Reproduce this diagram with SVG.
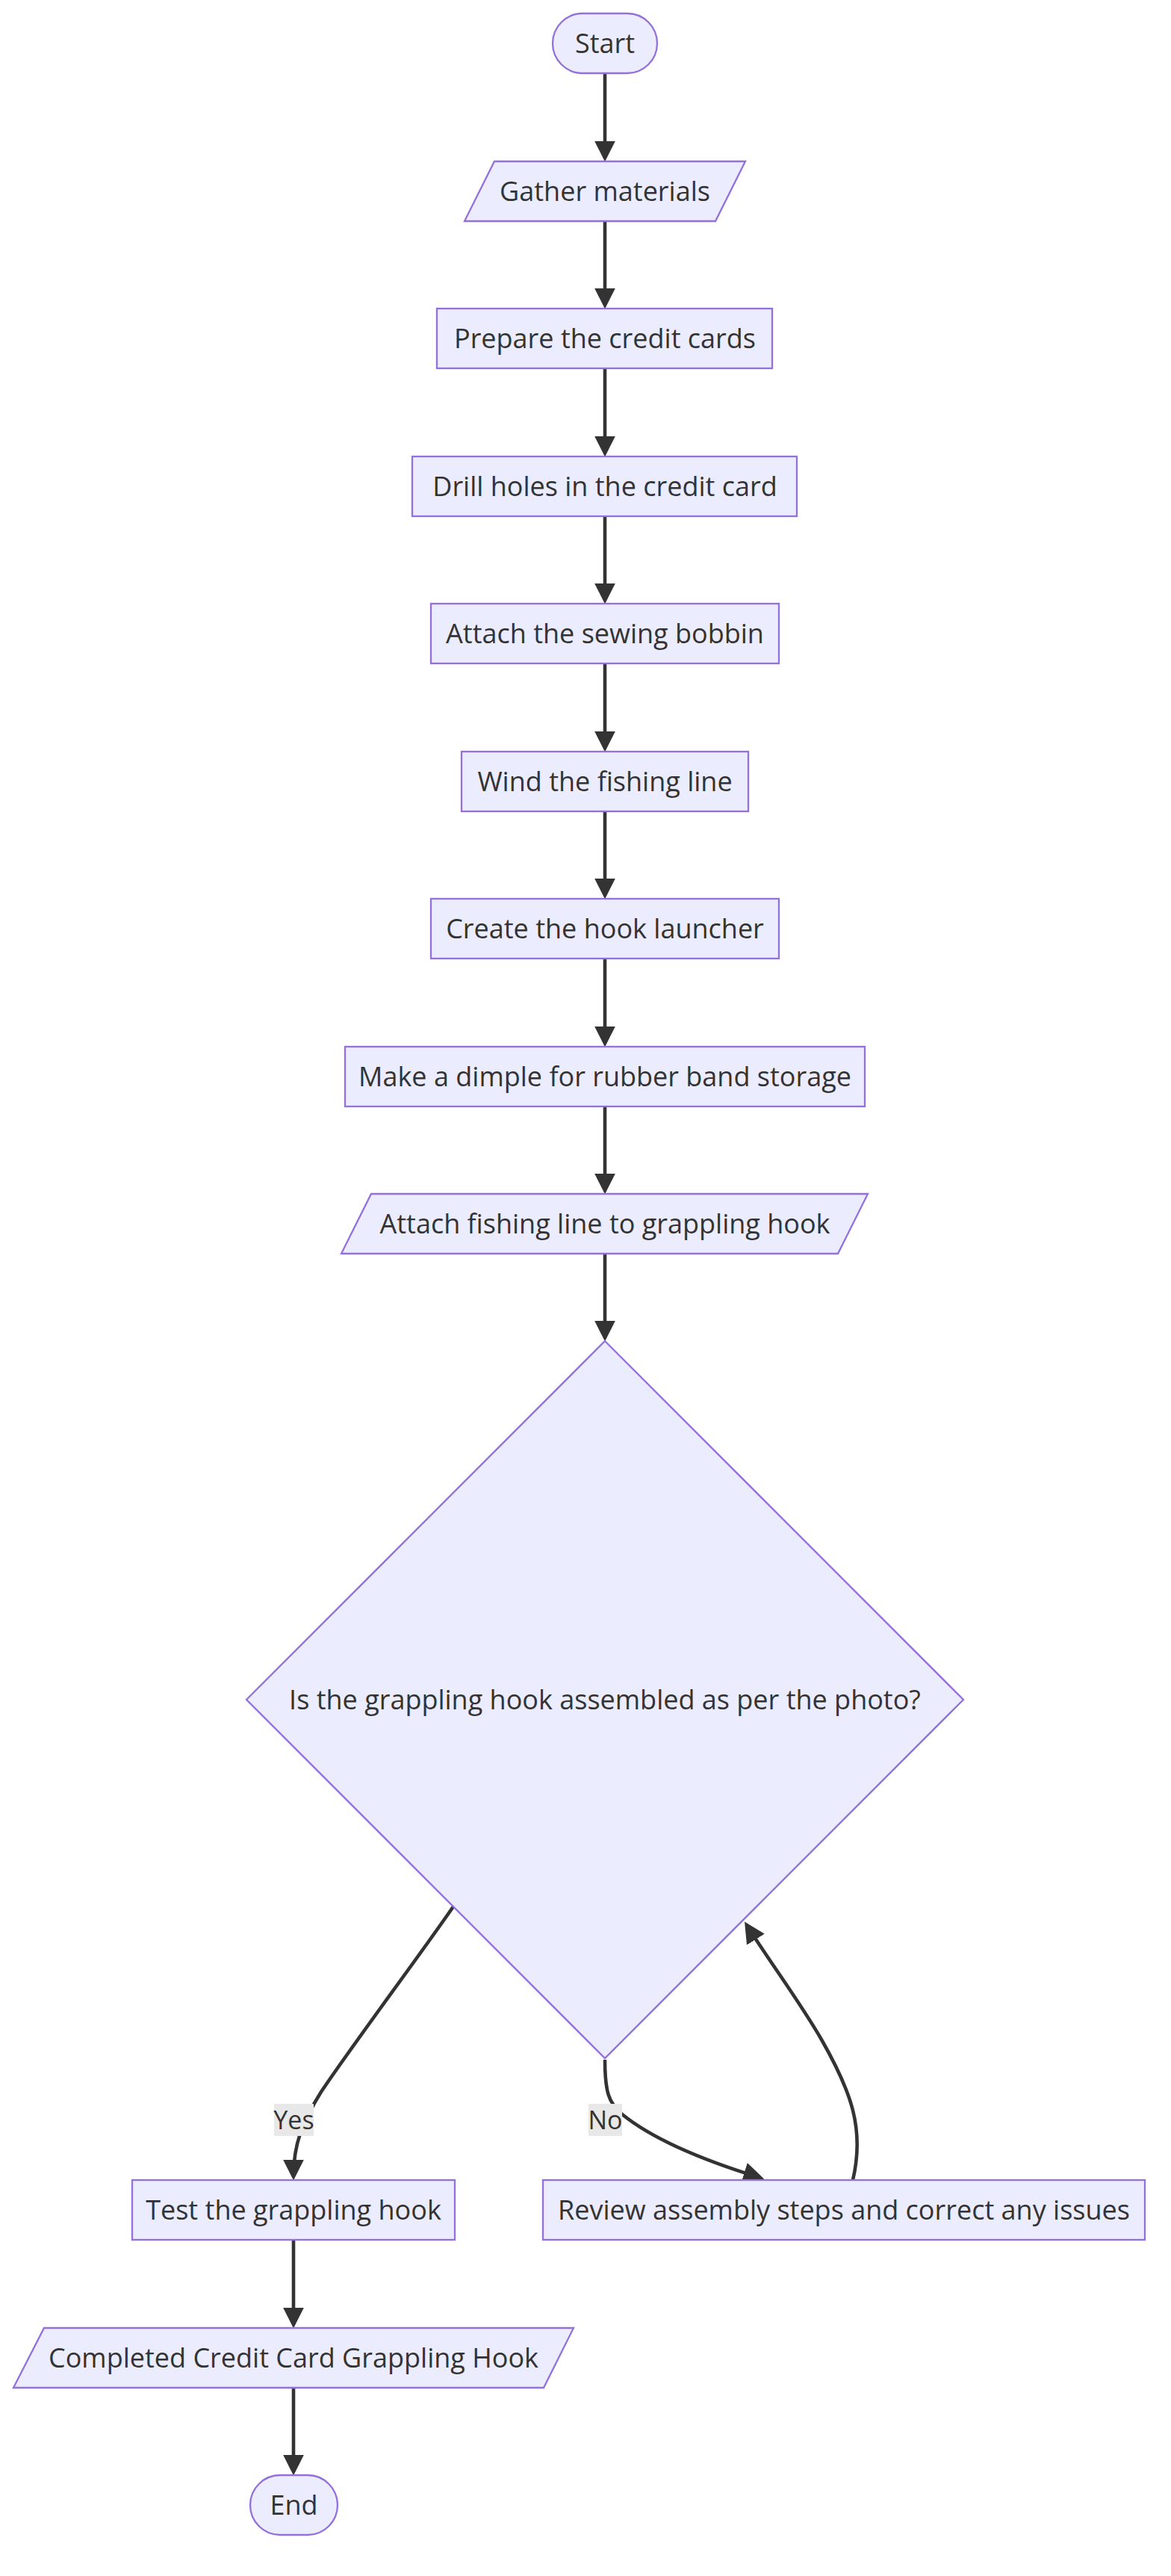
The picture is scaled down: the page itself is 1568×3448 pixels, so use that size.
<svg xmlns="http://www.w3.org/2000/svg" width="1568" height="3448" viewBox="0 0 1568 3448">
<style>
.node rect,.node polygon{fill:#ECECFF;stroke:#9370DB;stroke-width:2.3}
.lbl{font-family:"Open Sans","Noto Sans","DejaVu Sans",sans-serif;font-size:36px;fill:#333333;text-anchor:middle}
.elbl{font-size:34px}
.edge{fill:none;stroke:#333333;stroke-width:4.6}
.elbg{fill:#e8e8e8}
</style>
<defs>
<marker id="arrow" markerUnits="userSpaceOnUse" markerWidth="28" markerHeight="28" viewBox="0 0 10 10" refX="8" refY="5" orient="auto">
<path d="M0,0 L10,5 L0,10 z" fill="#333333"/>
</marker>
</defs>
<rect width="1568" height="3448" fill="#ffffff"/>
<g id="edges">
<path class="edge" d="M810,98 L810,211" marker-end="url(#arrow)"/>
<path class="edge" d="M810,296 L810,408" marker-end="url(#arrow)"/>
<path class="edge" d="M810,493 L810,606" marker-end="url(#arrow)"/>
<path class="edge" d="M810,691 L810,803" marker-end="url(#arrow)"/>
<path class="edge" d="M810,888 L810,1001" marker-end="url(#arrow)"/>
<path class="edge" d="M810,1086 L810,1198" marker-end="url(#arrow)"/>
<path class="edge" d="M810,1283 L810,1396" marker-end="url(#arrow)"/>
<path class="edge" d="M810,1481 L810,1593" marker-end="url(#arrow)"/>
<path class="edge" d="M810,1678 L810,1790" marker-end="url(#arrow)"/>
<path class="edge" d="M607,2552 C560,2620 470,2740 430,2800 C405,2840 393,2870 393,2913" marker-end="url(#arrow)"/>
<path class="edge" d="M810,2757 C810,2800 815,2815 833,2830 C870,2860 930,2888 1018,2915" marker-end="url(#arrow)"/>
<path class="edge" d="M1142,2918 C1158,2850 1140,2800 1100,2730 C1070,2678 1030,2625 1000,2577" marker-end="url(#arrow)"/>
<path class="edge" d="M393,2998 L393,3111" marker-end="url(#arrow)"/>
<path class="edge" d="M393,3196 L393,3308" marker-end="url(#arrow)"/>
</g>
<g id="edge-labels">
<g id="label-yes"><rect class="elbg" x="367" y="2816" width="53" height="43"/><text class="lbl elbl" x="393.5" y="2850">Yes</text></g>
<g id="label-no"><rect class="elbg" x="788" y="2816" width="45" height="43"/><text class="lbl elbl" x="810.5" y="2850">No</text></g>
</g>
<g id="nodes">
<g id="start" class="node"><rect x="740" y="18" width="140" height="80" rx="40" ry="40"/><text class="lbl" x="810" y="71">Start</text></g>
<g id="gather" class="node"><polygon points="662,216 998,216 958,296 622,296"/><text class="lbl" x="810" y="269">Gather materials</text></g>
<g id="prepare" class="node"><rect x="585" y="413" width="449" height="80"/><text class="lbl" x="810" y="466">Prepare the credit cards</text></g>
<g id="drill" class="node"><rect x="552" y="611" width="515" height="80"/><text class="lbl" x="810" y="664">Drill holes in the credit card</text></g>
<g id="bobbin" class="node"><rect x="577" y="808" width="466" height="80"/><text class="lbl" x="810" y="861">Attach the sewing bobbin</text></g>
<g id="wind" class="node"><rect x="618" y="1006" width="384" height="80"/><text class="lbl" x="810" y="1059">Wind the fishing line</text></g>
<g id="launcher" class="node"><rect x="577" y="1203" width="466" height="80"/><text class="lbl" x="810" y="1256">Create the hook launcher</text></g>
<g id="dimple" class="node"><rect x="462" y="1401" width="696" height="80"/><text class="lbl" x="810" y="1454">Make a dimple for rubber band storage</text></g>
<g id="attachline" class="node"><polygon points="497,1598 1162,1598 1122,1678 457,1678"/><text class="lbl" x="810" y="1651">Attach fishing line to grappling hook</text></g>
<g id="decision" class="node"><polygon points="810,1795 1290,2275 810,2755 330,2275"/><text class="lbl" x="810" y="2288">Is the grappling hook assembled as per the photo?</text></g>
<g id="test" class="node"><rect x="177" y="2918" width="432" height="80"/><text class="lbl" x="393" y="2971">Test the grappling hook</text></g>
<g id="review" class="node"><rect x="727" y="2918" width="806" height="80"/><text class="lbl" x="1130" y="2971">Review assembly steps and correct any issues</text></g>
<g id="completed" class="node"><polygon points="59,3116 768,3116 728,3196 18,3196"/><text class="lbl" x="393" y="3169">Completed Credit Card Grappling Hook</text></g>
<g id="end" class="node"><rect x="335" y="3313" width="117" height="80" rx="40" ry="40"/><text class="lbl" x="393.5" y="3366">End</text></g>
</g>
</svg>
